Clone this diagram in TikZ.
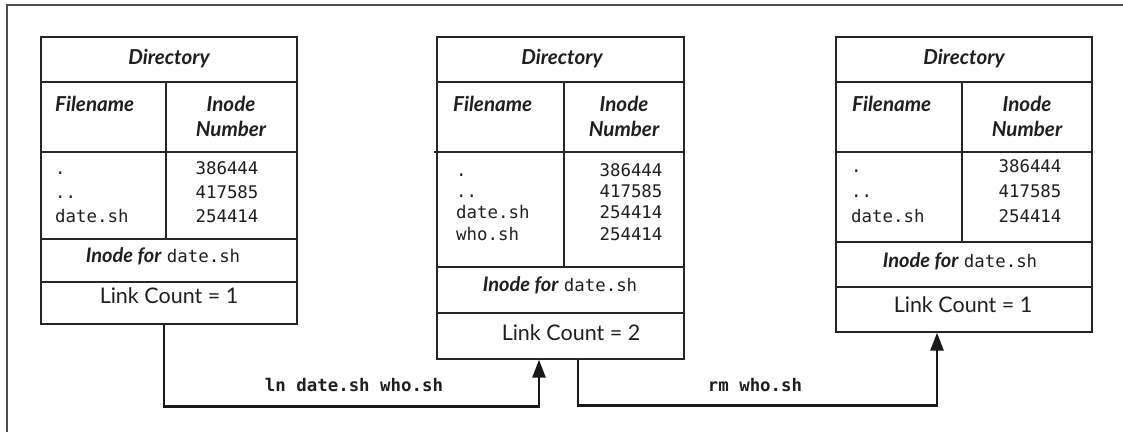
\documentclass[tikz,border=0pt]{standalone}
\usepackage{fontspec}
\setmainfont{Lato}
\setmonofont{DejaVu Sans Mono}
\usetikzlibrary{arrows.meta}

\newcommand{\fname}[1]{{\fontsize{17.4}{20}\selectfont\ttfamily #1}}

\begin{document}
\begin{tikzpicture}[x=1pt,y=-1pt,
  frame/.style={draw=black!70, line width=1.8pt},
  box/.style={draw=black!85, line width=1.3pt, inner sep=0pt, fill=none},
  rule/.style={draw=black!85, line width=1.3pt},
  conn/.style={draw=black!90, line width=2.8pt,
    -{Triangle[length=18pt,width=13pt]}},
  hd/.style={font=\fontsize{20.6}{24}\selectfont\bfseries\itshape, text=black!88, inner sep=0pt},
  ino/.style={font=\fontsize{20}{24}\selectfont, text=black!88, inner sep=0pt},
  txt/.style={font=\fontsize{21.5}{24}\selectfont, text=black!88, inner sep=0pt},
  mono/.style={font=\fontsize{17.4}{20}\selectfont\ttfamily, text=black!88, inner sep=0pt},
  cmd/.style={font=\fontsize{17.4}{20}\selectfont\ttfamily\bfseries, text=black!88, inner sep=0pt}
]
\useasboundingbox (0,0) rectangle (1123,432);

% open frame: top and left edges only
\draw[frame] (7,432) -- (7,5) -- (1123,5);

% ---------- directory before the link ----------
\node[box, minimum width=256pt, minimum height=287pt] (b1) at (169,180.5) {};
\draw[rule] (41,82) -- (297,82);
\draw[rule] (41,152) -- (297,152);
\draw[rule] (166,82) -- (166,239);
\draw[rule] (41,239) -- (297,239);
\draw[rule] (41,282) -- (297,282);
\node[hd, anchor=base] (b1dir) at (169,64) {Directory};
\node[hd, anchor=base west] (b1fn) at (55,111) {Filename};
\node[hd, anchor=base] (b1in) at (231,111) {Inode};
\node[hd, anchor=base] (b1nu) at (231,136) {Number};
\node[mono, anchor=base west] (b1n1) at (55,174) {.};
\node[mono, anchor=base west] (b1n2) at (55,198) {..};
\node[mono, anchor=base west] (b1n3) at (55,222) {date.sh};
\node[mono, anchor=base] (b1i1) at (227,174) {386444};
\node[mono, anchor=base] (b1i2) at (227,198) {417585};
\node[mono, anchor=base] (b1i3) at (227,222) {254414};
\node[ino, anchor=base] (b1ino) at (163,262) {\textbf{\textit{Inode for}} \fname{date.sh}};
\node[txt, anchor=base] (b1lc) at (169,303) {Link Count = 1};

% ---------- directory after ln ----------
\node[box, minimum width=247pt, minimum height=322pt] (b2) at (560.5,198) {};
\draw[rule] (437,82) -- (684,82);
\draw[rule] (434,152) -- (684,152);
\draw[rule] (564,82) -- (564,267);
\draw[rule] (437,267) -- (684,267);
\draw[rule] (437,313) -- (684,313);
\node[hd, anchor=base] (b2dir) at (562,64) {Directory};
\node[hd, anchor=base west] (b2fn) at (453,111) {Filename};
\node[hd, anchor=base] (b2in) at (624,111) {Inode};
\node[hd, anchor=base] (b2nu) at (624,136) {Number};
\node[mono, anchor=base west] (b2n1) at (456,176) {.};
\node[mono, anchor=base west] (b2n2) at (456,197) {..};
\node[mono, anchor=base west] (b2n3) at (456,218) {date.sh};
\node[mono, anchor=base west] (b2n4) at (456,240) {who.sh};
\node[mono, anchor=base] (b2i1) at (631,176) {386444};
\node[mono, anchor=base] (b2i2) at (631,197) {417585};
\node[mono, anchor=base] (b2i3) at (631,218) {254414};
\node[mono, anchor=base] (b2i4) at (631,240) {254414};
\node[ino, anchor=base] (b2ino) at (560,291) {\textbf{\textit{Inode for}} \fname{date.sh}};
\node[txt, anchor=base] (b2lc) at (571,340) {Link Count = 2};

% ---------- directory after rm ----------
\node[box, minimum width=256pt, minimum height=295pt] (b3) at (964,184.5) {};
\draw[rule] (836,82) -- (1092,82);
\draw[rule] (836,152) -- (1092,152);
\draw[rule] (962,82) -- (962,242);
\draw[rule] (836,242) -- (1092,242);
\draw[rule] (836,287) -- (1092,287);
\node[hd, anchor=base] (b3dir) at (964,64) {Directory};
\node[hd, anchor=base west] (b3fn) at (852,111) {Filename};
\node[hd, anchor=base] (b3in) at (1027,111) {Inode};
\node[hd, anchor=base] (b3nu) at (1027,136) {Number};
\node[mono, anchor=base west] (b3n1) at (851,172) {.};
\node[mono, anchor=base west] (b3n2) at (851,197) {..};
\node[mono, anchor=base west] (b3n3) at (851,222) {date.sh};
\node[mono, anchor=base] (b3i1) at (1030,172) {386444};
\node[mono, anchor=base] (b3i2) at (1030,197) {417585};
\node[mono, anchor=base] (b3i3) at (1030,222) {254414};
\node[ino, anchor=base] (b3ino) at (960,267) {\textbf{\textit{Inode for}} \fname{date.sh}};
\node[txt, anchor=base] (b3lc) at (963,312) {Link Count = 1};

% ---------- commands ----------
\draw[conn] ([xshift=-5pt]b1.south) -- ++(0,82) -| ([xshift=-21.5pt]b2.south);
\draw[conn] ([xshift=17.5pt]b2.south) -- ++(0,46) -| ([xshift=-27pt]b3.south);
\node[cmd, anchor=base] (lncmd) at (354,391) {ln date.sh who.sh};
\node[cmd, anchor=base] (rmcmd) at (755,391) {rm who.sh};
\end{tikzpicture}
\end{document}
